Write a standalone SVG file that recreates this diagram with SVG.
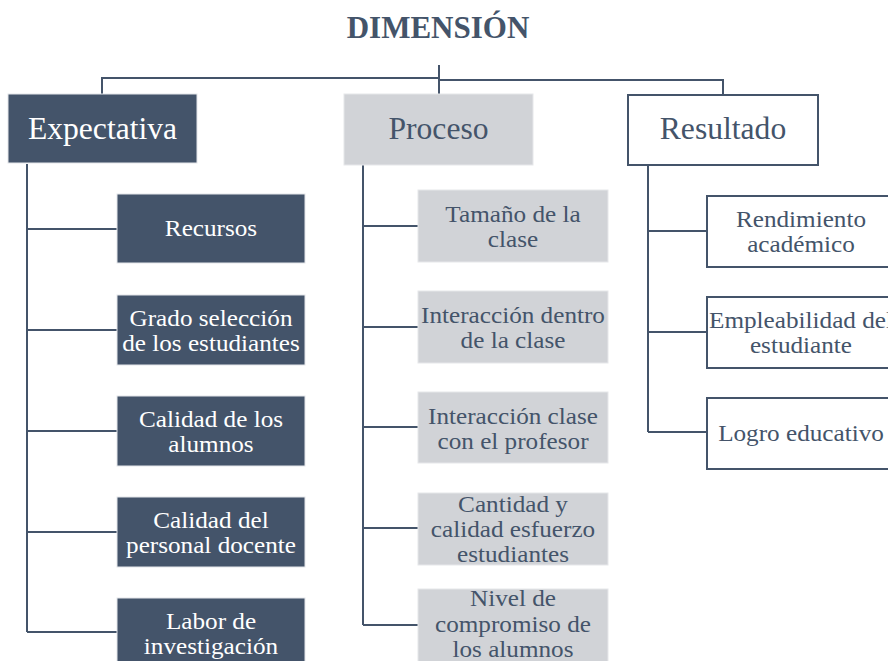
<svg xmlns="http://www.w3.org/2000/svg" width="888" height="661" viewBox="0 0 888 661">
<style>
text{font-family:"Liberation Serif","Times New Roman",serif;text-anchor:middle}
.t{font-size:24px}
.h{font-size:31px}
.ttl{font-size:31px;font-weight:bold;fill:#44546a}
.dk rect{fill:#44546a;stroke:#e4e6ea;stroke-width:1}
.dk text{fill:#ffffff}
.lt rect{fill:#d1d3d7;stroke:#e6e7ea;stroke-width:1}
.lt text{fill:#44546a}
.wh rect{fill:#ffffff;stroke:#44546a;stroke-width:2}
.wh text{fill:#44546a}
.c{fill:none;stroke:#44546a;stroke-width:2}
</style>
<rect width="888" height="661" fill="#ffffff"/>
<text class="ttl" x="438" y="38">DIMENSIÓN</text>
<g id="connectors">
<path class="c" d="M439 65V94"/>
<path class="c" d="M439 78H102V94"/>
<path class="c" d="M439 80H723V95"/>
<path class="c" d="M27 164V632"/>
<path class="c" d="M27 229H117M27 330H117M27 431H117M27 532H117M27 632H117"/>
<path class="c" d="M363 165V625"/>
<path class="c" d="M363 226H418M363 327H418M363 427H418M363 528H418M363 625H418"/>
<path class="c" d="M648 166V432"/>
<path class="c" d="M648 231H706M648 332H706M648 432H706"/>
</g>
<g id="expectativa" class="dk"><rect x="8" y="94" width="189" height="69"/><text class="h" transform="matrix(1.02 0 0 1 102.5 0)" y="139">Expectativa</text></g>
<g id="proceso" class="lt"><rect x="344" y="94" width="189" height="71"/><text class="h" transform="matrix(1.02 0 0 1 438.5 0)" y="139">Proceso</text></g>
<g id="resultado" class="wh"><rect x="628" y="95" width="190" height="70"/><text class="h" transform="matrix(1.02 0 0 1 723 0)" y="139">Resultado</text></g>

<g id="recursos" class="dk"><rect x="117" y="194" width="188" height="69"/><text class="t" transform="matrix(1.05 0 0 1 211 0)" y="236">Recursos</text></g>
<g id="grado" class="dk"><rect x="117" y="295" width="188" height="70"/><text class="t" transform="matrix(1.05 0 0 1 211 0)" y="326">Grado selección</text><text class="t" transform="matrix(1.05 0 0 1 211 0)" y="351">de los estudiantes</text></g>
<g id="calidad-alumnos" class="dk"><rect x="117" y="396" width="188" height="70"/><text class="t" transform="matrix(1.05 0 0 1 211 0)" y="427">Calidad de los</text><text class="t" transform="matrix(1.05 0 0 1 211 0)" y="452">alumnos</text></g>
<g id="calidad-docente" class="dk"><rect x="117" y="497" width="188" height="70"/><text class="t" transform="matrix(1.05 0 0 1 211 0)" y="528">Calidad del</text><text class="t" transform="matrix(1.05 0 0 1 211 0)" y="553">personal docente</text></g>
<g id="labor" class="dk"><rect x="117" y="598" width="188" height="70"/><text class="t" transform="matrix(1.05 0 0 1 211 0)" y="629">Labor de</text><text class="t" transform="matrix(1.05 0 0 1 211 0)" y="654">investigación</text></g>

<g id="tamano" class="lt"><rect x="418" y="190" width="190" height="72"/><text class="t" transform="matrix(1.05 0 0 1 513 0)" y="222">Tamaño de la</text><text class="t" transform="matrix(1.05 0 0 1 513 0)" y="247">clase</text></g>
<g id="interaccion-dentro" class="lt"><rect x="418" y="291" width="190" height="72"/><text class="t" transform="matrix(1.05 0 0 1 513 0)" y="323">Interacción dentro</text><text class="t" transform="matrix(1.05 0 0 1 513 0)" y="348">de la clase</text></g>
<g id="interaccion-profesor" class="lt"><rect x="418" y="392" width="190" height="71"/><text class="t" transform="matrix(1.05 0 0 1 513 0)" y="424">Interacción clase</text><text class="t" transform="matrix(1.05 0 0 1 513 0)" y="449">con el profesor</text></g>
<g id="cantidad" class="lt"><rect x="418" y="493" width="190" height="72"/><text class="t" transform="matrix(1.05 0 0 1 513 0)" y="512">Cantidad y</text><text class="t" transform="matrix(1.05 0 0 1 513 0)" y="537">calidad esfuerzo</text><text class="t" transform="matrix(1.05 0 0 1 513 0)" y="562">estudiantes</text></g>
<g id="nivel" class="lt"><rect x="418" y="589" width="190" height="74"/><text class="t" transform="matrix(1.05 0 0 1 513 0)" y="606">Nivel de</text><text class="t" transform="matrix(1.05 0 0 1 513 0)" y="632">compromiso de</text><text class="t" transform="matrix(1.05 0 0 1 513 0)" y="657">los alumnos</text></g>

<g id="rendimiento" class="wh"><rect x="707" y="196" width="190" height="71"/><text class="t" transform="matrix(1.05 0 0 1 801 0)" y="227">Rendimiento</text><text class="t" transform="matrix(1.05 0 0 1 801 0)" y="252">académico</text></g>
<g id="empleabilidad" class="wh"><rect x="707" y="297" width="190" height="71"/><text class="t" transform="matrix(1.05 0 0 1 801 0)" y="328">Empleabilidad del</text><text class="t" transform="matrix(1.05 0 0 1 801 0)" y="353">estudiante</text></g>
<g id="logro" class="wh"><rect x="707" y="398" width="190" height="71"/><text class="t" transform="matrix(1.05 0 0 1 801 0)" y="441">Logro educativo</text></g>
</svg>
